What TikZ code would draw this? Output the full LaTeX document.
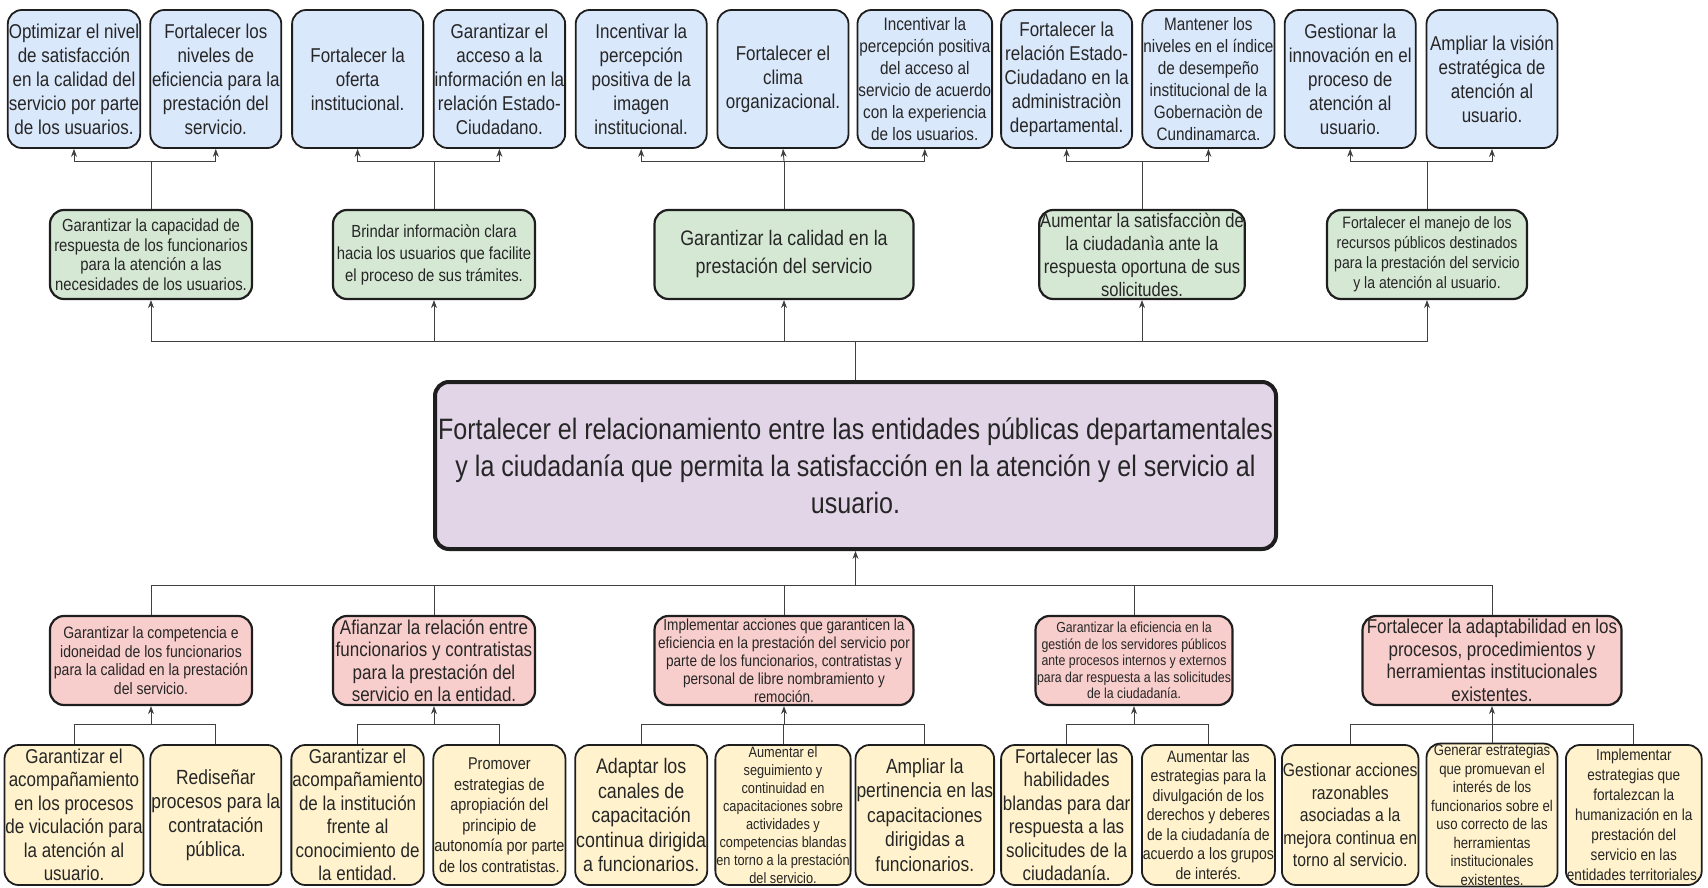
\documentclass[tikz,border=0pt]{standalone}
\usepackage{fontspec}
\setmainfont{Liberation Sans}[FakeStretch=0.85]
\usetikzlibrary{arrows.meta}
\definecolor{cblue}{HTML}{DAE8FC}
\definecolor{cgreen}{HTML}{D5E8D4}
\definecolor{cpurple}{HTML}{E1D5E7}
\definecolor{cred}{HTML}{F8CECC}
\definecolor{cyellow}{HTML}{FFF2CC}
\definecolor{cline}{HTML}{1E1E1E}
\newcommand\fs[2]{\fontsize{#1}{#2}\selectfont}
\begin{document}
\begin{tikzpicture}[x=1pt,y=-1pt,
  base/.style={draw=cline, line width=1.8pt, rounded corners=14pt, align=center, inner sep=1pt, text=black!85},
  bluebox/.style={base, fill=cblue, minimum width=131pt, minimum height=138pt, font=\fs{20}{24}},
  greenbox/.style={base, fill=cgreen, line width=2.2pt, minimum height=89pt, font=\fs{17.5}{19.5}},
  redbox/.style={base, fill=cred, line width=2.2pt, minimum height=89pt, font=\fs{16.5}{18.5}},
  yellowbox/.style={base, fill=cyellow, minimum width=131pt, minimum height=140pt, font=\fs{20}{23.5}},
  mainbox/.style={base, fill=cpurple, line width=4pt, minimum width=841pt, minimum height=167pt, font=\fs{29.5}{37}},
  conn/.style={draw=black!75, line width=0.9pt},
  arr/.style={-{Stealth[length=8pt,width=6pt]}}
]
\useasboundingbox (0,0) rectangle (1708,888);

% top row
\node[bluebox] (b1) at (74,79) {Optimizar el nivel\\de satisfacción\\en la calidad del\\servicio por parte\\de los usuarios.};
\node[bluebox] (b2) at (215.8,79) {Fortalecer los\\niveles de\\eficiencia para la\\prestación del\\servicio.};
\node[bluebox] (b3) at (357.6,79) {Fortalecer la\\oferta\\institucional.};
\node[bluebox] (b4) at (499.4,79) {Garantizar el\\acceso a la\\información en la\\relación Estado-\\Ciudadano.};
\node[bluebox] (b5) at (641.2,79) {Incentivar la\\percepción\\positiva de la\\imagen\\institucional.};
\node[bluebox] (b6) at (783,79) {Fortalecer el\\clima\\organizacional.};
\node[bluebox, font=\fs{18}{22}] (b7) at (924.8,79) {Incentivar la\\percepción positiva\\del acceso al\\servicio de acuerdo\\con la experiencia\\de los usuarios.};
\node[bluebox] (b8) at (1066.6,79) {Fortalecer la\\relación Estado-\\Ciudadano en la\\administraciòn\\departamental.};
\node[bluebox, font=\fs{18}{22}] (b9) at (1208.4,79) {Mantener los\\niveles en el índice\\de desempeño\\institucional de la\\Gobernaciòn de\\Cundinamarca.};
\node[bluebox] (b10) at (1350.2,79) {Gestionar la\\innovación en el\\proceso de\\atención al\\usuario.};
\node[bluebox] (b11) at (1492,79) {Ampliar la visión\\estratégica de\\atención al\\usuario.};

% green row
\node[greenbox, minimum width=202pt] (g1) at (151,254.5) {Garantizar la capacidad de\\respuesta de los funcionarios\\para la atención a las\\necesidades de los usuarios.};
\node[greenbox, minimum width=202pt, font=\fs{17.5}{22}] (g2) at (434,254.5) {Brindar informaciòn clara\\hacia los usuarios que facilite\\el proceso de sus trámites.};
\node[greenbox, minimum width=259pt, font=\fs{21}{28}] (g3) at (784,254.5) {Garantizar la calidad en la\\prestación del servicio};
\node[greenbox, minimum width=202pt, font=\fs{19.5}{23}] (g4) at (1142,254.5) {Aumentar la satisfacciòn de\\la ciudadanìa ante la\\respuesta oportuna de sus\\solicitudes.};
\node[greenbox, minimum width=200pt, font=\fs{16.5}{20}] (g5) at (1427,254.5) {Fortalecer el manejo de los\\recursos públicos destinados\\para la prestación del servicio\\y la atención al usuario.};

% main
\node[mainbox] (main) at (855.5,465.5) {Fortalecer el relacionamiento entre las entidades públicas departamentales\\y la ciudadanía que permita la satisfacción en la atención y el servicio al\\usuario.};

% red row
\node[redbox, minimum width=202pt] (r1) at (151,660.5) {Garantizar la competencia e\\idoneidad de los funcionarios\\para la calidad en la prestación\\del servicio.};
\node[redbox, minimum width=202pt, font=\fs{20}{22.5}] (r2) at (434,660.5) {Afianzar la relación entre\\funcionarios y contratistas\\para la prestación del\\servicio en la entidad.};
\node[redbox, minimum width=259pt, font=\fs{16}{18}] (r3) at (784,660.5) {Implementar acciones que garanticen la\\eficiencia en la prestación del servicio por\\parte de los funcionarios, contratistas y\\personal de libre nombramiento y\\remoción.};
\node[redbox, minimum width=197pt, font=\fs{14.5}{16.5}] (r4) at (1134,660.5) {Garantizar la eficiencia en la\\gestión de los servidores públicos\\ante procesos internos y externos\\para dar respuesta a las solicitudes\\de la ciudadanía.};
\node[redbox, minimum width=259pt, font=\fs{20}{22.5}] (r5) at (1492,660.5) {Fortalecer la adaptabilidad en los\\procesos, procedimientos y\\herramientas institucionales\\existentes.};

% yellow row
\node[yellowbox] (y1) at (74,815) {Garantizar el\\acompañamiento\\en los procesos\\de viculación para\\la atención al\\usuario.};
\node[yellowbox, font=\fs{20.5}{24}] (y2) at (215.8,815) {Rediseñar\\procesos para la\\contratación\\pública.};
\node[yellowbox] (y3) at (357.6,815) {Garantizar el\\acompañamiento\\de la institución\\frente al\\conocimiento de\\la entidad.};
\node[yellowbox, font=\fs{17}{20.5}] (y4) at (499.4,815) {Promover\\estrategias de\\apropiación del\\principio de\\autonomía por parte\\de los contratistas.};
\node[yellowbox, font=\fs{21}{24.5}] (y5) at (641.2,815) {Adaptar los\\canales de\\capacitación\\continua dirigida\\a funcionarios.};
\node[yellowbox, font=\fs{15}{18}] (y6) at (783,815) {Aumentar el\\seguimiento y\\continuidad en\\capacitaciones sobre\\actividades y\\competencias blandas\\en torno a la prestación\\del servicio.};
\node[yellowbox, font=\fs{20.5}{24.5}] (y7) at (924.8,815) {Ampliar la\\pertinencia en las\\capacitaciones\\dirigidas a\\funcionarios.};
\node[yellowbox] (y8) at (1066.6,815) {Fortalecer las\\habilidades\\blandas para dar\\respuesta a las\\solicitudes de la\\ciudadanía.};
\node[yellowbox, font=\fs{16.5}{19.5}] (y9) at (1208.4,815) {Aumentar las\\estrategias para la\\divulgación de los\\derechos y deberes\\de la ciudadanía de\\acuerdo a los grupos\\de interés.};
\node[yellowbox, font=\fs{18.5}{22.5}] (y10) at (1350.2,815) {Gestionar acciones\\razonables\\asociadas a la\\mejora continua en\\torno al servicio.};
\node[yellowbox, font=\fs{15.5}{18.5}] (y11) at (1492,815) {Generar estrategias\\que promuevan el\\interés de los\\funcionarios sobre el\\uso correcto de las\\herramientas\\institucionales\\existentes.};
\node[yellowbox, font=\fs{16}{20}] (y12) at (1633.8,815) {Implementar\\estrategias que\\fortalezcan la\\humanización en la\\prestación del\\servicio en las\\entidades territoriales.};

% top brackets
\coordinate (t1) at (151,161);
\coordinate (t2) at (434,161);
\coordinate (t3) at (784,161);
\coordinate (t4) at (1142,161);
\coordinate (t5) at (1427,161);
\draw[conn] (g1.north) -- (t1);
\draw[conn] (g2.north) -- (t2);
\draw[conn] (g3.north) -- (t3);
\draw[conn] (g4.north) -- (t4);
\draw[conn] (g5.north) -- (t5);
\draw[conn,arr] (t1) -| (b1.south);
\draw[conn,arr] (t1) -| (b2.south);
\draw[conn,arr] (t2) -| (b3.south);
\draw[conn,arr] (t2) -| (b4.south);
\draw[conn,arr] (t3) -| (b5.south);
\draw[conn,arr] (t3) -- (b6.south);
\draw[conn,arr] (t3) -| (b7.south);
\draw[conn,arr] (t4) -| (b8.south);
\draw[conn,arr] (t4) -| (b9.south);
\draw[conn,arr] (t5) -| (b10.south);
\draw[conn,arr] (t5) -| (b11.south);

% middle bracket
\coordinate (m1) at (855.5,341);
\draw[conn] (main.north) -- (m1);
\draw[conn,arr] (m1) -| (g1.south);
\draw[conn,arr] (m1) -| (g2.south);
\draw[conn,arr] (m1) -| (g3.south);
\draw[conn,arr] (m1) -| (g4.south);
\draw[conn,arr] (m1) -| (g5.south);

% bottom bracket
\coordinate (m2) at (855.5,585);
\draw[conn,arr] (m2) -- (main.south);
\draw[conn] (m2) -| (r1.north);
\draw[conn] (m2) -| (r2.north);
\draw[conn] (m2) -| (r3.north);
\draw[conn] (m2) -| (r4.north);
\draw[conn] (m2) -| (r5.north);

% lower brackets
\coordinate (k1) at (151,724);
\coordinate (k2) at (434,724);
\coordinate (k3) at (784,724);
\coordinate (k4) at (1134,724);
\coordinate (k5) at (1492,724);
\draw[conn,arr] (k1) -- (r1.south);
\draw[conn,arr] (k2) -- (r2.south);
\draw[conn,arr] (k3) -- (r3.south);
\draw[conn,arr] (k4) -- (r4.south);
\draw[conn,arr] (k5) -- (r5.south);
\draw[conn] (k1) -| (y1.north);
\draw[conn] (k1) -| (y2.north);
\draw[conn] (k2) -| (y3.north);
\draw[conn] (k2) -| (y4.north);
\draw[conn] (k3) -| (y5.north);
\draw[conn] (k3) -| (y6.north);
\draw[conn] (k3) -| (y7.north);
\draw[conn] (k4) -| (y8.north);
\draw[conn] (k4) -| (y9.north);
\draw[conn] (k5) -| (y10.north);
\draw[conn] (k5) -| (y11.north);
\draw[conn] (k5) -| (y12.north);
\end{tikzpicture}
\end{document}
